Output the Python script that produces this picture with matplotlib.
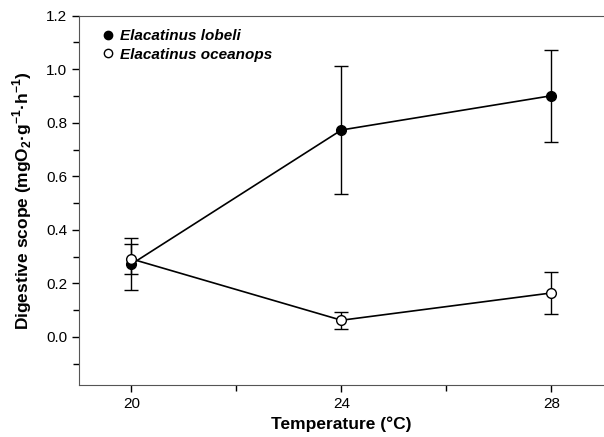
import matplotlib
matplotlib.use("Agg")
import matplotlib.pyplot as plt
from matplotlib.lines import Line2D
from matplotlib.ticker import MultipleLocator

plt.rcParams["font.family"] = ["Liberation Sans", "DejaVu Sans"]
plt.rcParams["mathtext.fontset"] = "custom"
plt.rcParams["mathtext.rm"] = "Liberation Sans"
plt.rcParams["mathtext.bf"] = "Liberation Sans:bold"

temps = [20, 24, 28]
lobeli = [0.272, 0.773, 0.901]
lobeli_err = [0.097, 0.238, 0.172]
oceanops = [0.291, 0.062, 0.164]
oceanops_err = [0.056, 0.032, 0.080]
species = ["Elacatinus lobeli", "Elacatinus oceanops"]

fig = plt.figure(figsize=(6.04, 4.37), dpi=100)
ax = fig.add_axes([0.1308, 0.119, 0.869, 0.845])

ax.errorbar(temps, lobeli, yerr=lobeli_err, color="black", marker="o",
            markersize=7, markerfacecolor="black", markeredgecolor="black",
            capsize=5, elinewidth=1, capthick=1, lw=1.2, zorder=3)
ax.errorbar(temps, oceanops, yerr=oceanops_err, color="black", marker="o",
            markersize=7, markerfacecolor="white", markeredgecolor="black",
            capsize=5, elinewidth=1, capthick=1, lw=1.2, zorder=4)

ax.set_xlim(19, 29)
ax.set_ylim(-0.18, 1.2)
ax.set_xticks(temps)
ax.xaxis.set_minor_locator(MultipleLocator(2))
ax.set_yticks([0.0, 0.2, 0.4, 0.6, 0.8, 1.0, 1.2])
ax.set_yticklabels(["0.0", "0.2", "0.4", "0.6", "0.8", "1.0", "1.2"])
ax.yaxis.set_minor_locator(MultipleLocator(0.1))
ax.tick_params(which="both", direction="out", labelsize=11, width=1)
ax.tick_params(which="major", length=5)
ax.tick_params(which="minor", length=4)
ax.spines["right"].set_visible(False)
for s in ["left", "bottom", "top"]:
    ax.spines[s].set_color("#555555")

ax.set_xlabel("Temperature (°C)", fontsize=12.5, fontweight="bold", labelpad=4)
ax.set_ylabel(r"Digestive scope (mgO$_\mathbf{2}$·g$^\mathbf{-1}$·h$^\mathbf{-1}$)",
              fontsize=12.5, fontweight="bold", labelpad=9)

handles = [
    Line2D([], [], ls="none", marker="o", markersize=6, markerfacecolor="black",
           markeredgecolor="black"),
    Line2D([], [], ls="none", marker="o", markersize=6, markerfacecolor="white",
           markeredgecolor="black"),
]
ax.legend(handles, species, loc="upper left", bbox_to_anchor=(0.017, 1.005),
          frameon=False, handlelength=0.6, handletextpad=0.5, borderaxespad=0.6,
          labelspacing=0.3, prop={"size": 11, "style": "italic", "weight": "bold"})

fig.savefig("out.png", dpi=100)
